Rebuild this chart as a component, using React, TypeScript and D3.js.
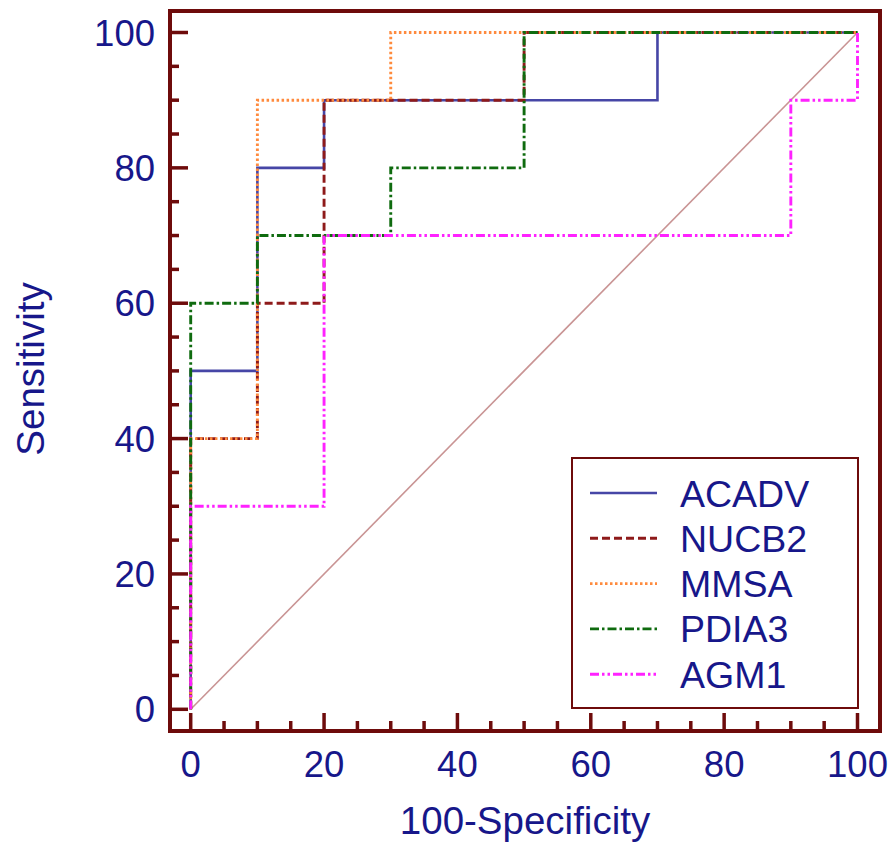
import React from "react";
import * as d3 from "d3";

// ROC vertices (x = 100-Specificity, y = Sensitivity), drawn as steps
const acadvX = [0, 0, 10, 20, 70, 100];
const acadvY = [0, 50, 80, 90, 100, 100];
const nucb2X = [0, 0, 10, 20, 50, 100];
const nucb2Y = [0, 40, 60, 90, 100, 100];
const mmsaX = [0, 0, 10, 30, 100];
const mmsaY = [0, 40, 90, 100, 100];
const pdia3X = [0, 0, 10, 30, 50, 100];
const pdia3Y = [0, 60, 70, 80, 100, 100];
const agm1X = [0, 0, 20, 90, 100, 100];
const agm1Y = [0, 30, 70, 90, 90, 100];

const seriesNames = ["ACADV", "NUCB2", "MMSA", "PDIA3", "AGM1"];
const majorTicks = [0, 20, 40, 60, 80, 100];
const minorTicks = [5, 10, 15, 25, 30, 35, 45, 50, 55, 65, 70, 75, 85, 90, 95];

const W = 893;
const H = 843;
const FONT = "'Liberation Sans', Arial, sans-serif";
const TEXT = "#17178a";
const AXIS = "#6e0b0b";

const styles = [
  { color: "#4646a6", dash: "none", width: 2.6 },
  { color: "#8e1a1a", dash: "8,4", width: 2.9 },
  { color: "#ff8a3d", dash: "2.5,2.5", width: 2.9 },
  { color: "#0f6b0f", dash: "9,3,2.5,3", width: 2.9 },
  { color: "#ff22ff", dash: "9,3,2.5,3,2.5,3", width: 2.9 },
];

export default function App() {
  const x = d3.scaleLinear().domain([0, 100]).range([190.7, 857.5]);
  const y = d3.scaleLinear().domain([0, 100]).range([709.3, 32.5]);

  const series = [
    { name: seriesNames[0], xs: acadvX, ys: acadvY },
    { name: seriesNames[1], xs: nucb2X, ys: nucb2Y },
    { name: seriesNames[2], xs: mmsaX, ys: mmsaY },
    { name: seriesNames[3], xs: pdia3X, ys: pdia3Y },
    { name: seriesNames[4], xs: agm1X, ys: agm1Y },
  ];

  const line = d3
    .line<[number, number]>()
    .x((d) => x(d[0]))
    .y((d) => y(d[1]))
    .curve(d3.curveStepAfter);

  const frame = { l: 170, t: 11, r: 880, b: 731 };
  const legend = { l: 572, t: 458, r: 858, b: 708 };
  const rowH = 45.3;

  return (
    <svg
      width={W}
      height={H}
      style={{ position: "absolute", left: 0, top: 0, background: "#fff" }}
      fontFamily={FONT}
    >
      {/* diagonal */}
      <line
        x1={x(0)}
        y1={y(0)}
        x2={x(100)}
        y2={y(100)}
        stroke="#c99494"
        strokeWidth={1.6}
      />
      {series.map((s, i) => (
        <path
          key={s.name}
          d={line(s.xs.map((v, j) => [v, s.ys[j]] as [number, number])) || ""}
          fill="none"
          stroke={styles[i].color}
          strokeWidth={styles[i].width}
          strokeDasharray={styles[i].dash}
        />
      ))}

      {/* frame */}
      <rect
        x={frame.l}
        y={frame.t}
        width={frame.r - frame.l}
        height={frame.b - frame.t}
        fill="none"
        stroke={AXIS}
        strokeWidth={4}
      />
      {/* y ticks */}
      {majorTicks.map((t) => (
        <g key={"ym" + t}>
          <line x1={frame.l} x2={frame.l + 18} y1={y(t)} y2={y(t)} stroke={AXIS} strokeWidth={3.5} />
          <text
            x={155}
            y={y(t) + 13}
            textAnchor="end"
            fontSize={36.5}
            fill={TEXT}
          >
            {t}
          </text>
        </g>
      ))}
      {minorTicks.map((t) => (
        <line key={"yn" + t} x1={frame.l} x2={frame.l + 9} y1={y(t)} y2={y(t)} stroke={AXIS} strokeWidth={3.5} />
      ))}
      {/* x ticks */}
      {majorTicks.map((t) => (
        <g key={"xm" + t}>
          <line x1={x(t)} x2={x(t)} y1={frame.b} y2={frame.b - 18} stroke={AXIS} strokeWidth={3.5} />
          <text x={x(t)} y={777} textAnchor="middle" fontSize={36.5} fill={TEXT}>
            {t}
          </text>
        </g>
      ))}
      {minorTicks.map((t) => (
        <line key={"xn" + t} x1={x(t)} x2={x(t)} y1={frame.b} y2={frame.b - 10} stroke={AXIS} strokeWidth={3.5} />
      ))}

      {/* axis titles */}
      <text x={525} y={834} textAnchor="middle" fontSize={38.5} fill={TEXT}>
        100-Specificity
      </text>
      <text
        transform={`translate(44, 369) rotate(-90)`}
        textAnchor="middle"
        fontSize={38.5}
        fill={TEXT}
      >
        Sensitivity
      </text>

      {/* legend */}
      <rect
        x={legend.l}
        y={legend.t}
        width={legend.r - legend.l}
        height={legend.b - legend.t}
        fill="#fff"
        stroke={AXIS}
        strokeWidth={2}
      />
      {series.map((s, i) => {
        const ly = 493 + i * rowH;
        return (
          <g key={"lg" + s.name}>
            <line
              x1={590}
              x2={657}
              y1={ly}
              y2={ly}
              stroke={styles[i].color}
              strokeWidth={styles[i].width}
              strokeDasharray={styles[i].dash}
            />
            <text x={680} y={ly + 13.5} fontSize={37.5} fill={TEXT}>
              {s.name}
            </text>
          </g>
        );
      })}
    </svg>
  );
}
